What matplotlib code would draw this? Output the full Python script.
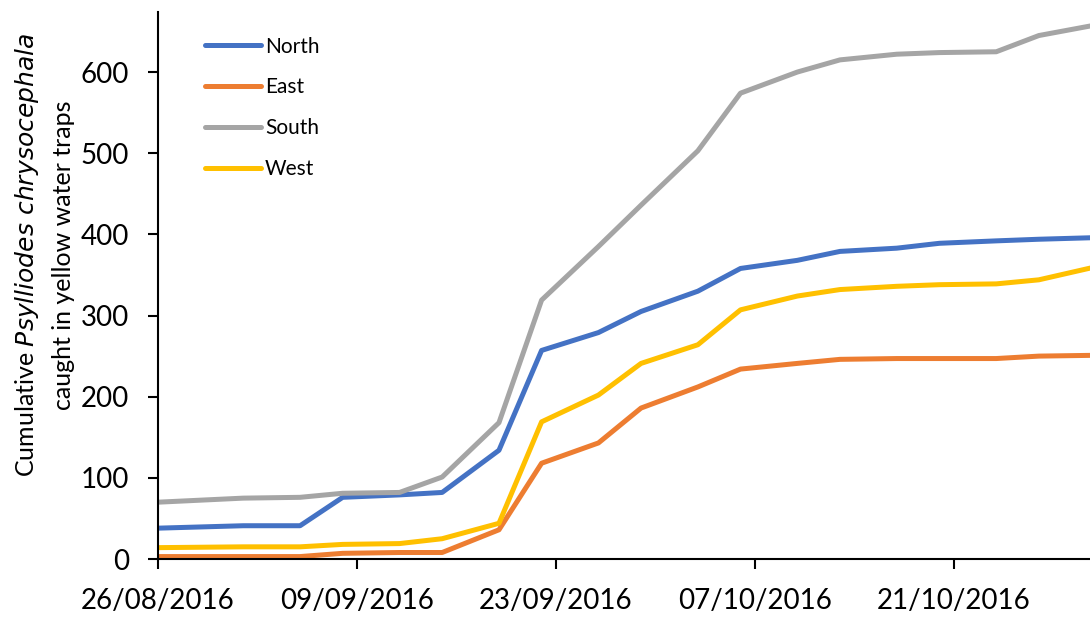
import numpy as np
import matplotlib
matplotlib.use("Agg")
import matplotlib.pyplot as plt
import matplotlib.dates as mdates
from datetime import datetime, timedelta

plt.rcParams["font.family"] = ["Lato", "DejaVu Sans"]

# sampling dates (Mon/Thu visits)
dates = ["26/08/2016", "01/09/2016", "05/09/2016", "08/09/2016", "12/09/2016",
         "15/09/2016", "19/09/2016", "22/09/2016", "26/09/2016", "29/09/2016",
         "03/10/2016", "06/10/2016", "10/10/2016", "13/10/2016", "17/10/2016",
         "20/10/2016", "24/10/2016", "27/10/2016", "31/10/2016"]

# cumulative catches per field side
north = [38, 41, 41, 76, 79, 82, 134, 257, 279, 305, 330, 358, 368, 379, 383, 389, 392, 394, 396]
east = [3, 3, 3, 7, 8, 8, 36, 118, 143, 186, 212, 234, 241, 246, 247, 247, 247, 250, 251]
south = [70, 75, 76, 81, 82, 101, 168, 319, 385, 436, 503, 574, 600, 615, 622, 624, 625, 645, 658]
west = [14, 15, 15, 18, 19, 25, 44, 169, 202, 241, 264, 307, 324, 332, 336, 338, 339, 344, 360]

x = [datetime.strptime(d, "%d/%m/%Y") for d in dates]
start = x[0]

fig = plt.figure(figsize=(10.9, 6.18), dpi=100)
ax = fig.add_axes([158 / 1090, 59 / 618, 932 / 1090, 547 / 618])

ax.plot(x, north, color="#4472C4", lw=3.6, label="North", solid_capstyle="round")
ax.plot(x, east, color="#ED7D31", lw=3.6, label="East", solid_capstyle="round")
ax.plot(x, south, color="#A5A5A5", lw=3.6, label="South", solid_capstyle="round")
ax.plot(x, west, color="#FFC000", lw=3.6, label="West", solid_capstyle="round")

ax.set_xlim(start, start + timedelta(days=65.6))
ax.set_ylim(0, 674)
ax.set_yticks(np.arange(0, 700, 100))
ticks = [start + timedelta(days=14 * i) for i in range(5)]
ax.set_xticks(ticks)
ax.xaxis.set_major_formatter(mdates.DateFormatter("%d/%m/%Y"))

for s in ["top", "right"]:
    ax.spines[s].set_visible(False)
for s in ["left", "bottom"]:
    ax.spines[s].set_linewidth(1.5)
ax.tick_params(axis="both", direction="out", length=7, width=1.5, labelsize=20)
ax.tick_params(axis="x", pad=14)
ax.tick_params(axis="y", pad=14)

ax.set_ylabel("Cumulative $\\it{Psylliodes\\ chrysocephala}$\ncaught in yellow water traps",
              fontsize=18, linespacing=1.6)
ax.yaxis.set_label_coords(-0.089, 0.555)

ax.legend(loc="upper left", bbox_to_anchor=(0.05, 0.955), frameon=False, fontsize=15,
          handlelength=2.7, handletextpad=0.2, labelspacing=1.0,
          borderpad=0, borderaxespad=0)

fig.savefig("out.png", dpi=100)
